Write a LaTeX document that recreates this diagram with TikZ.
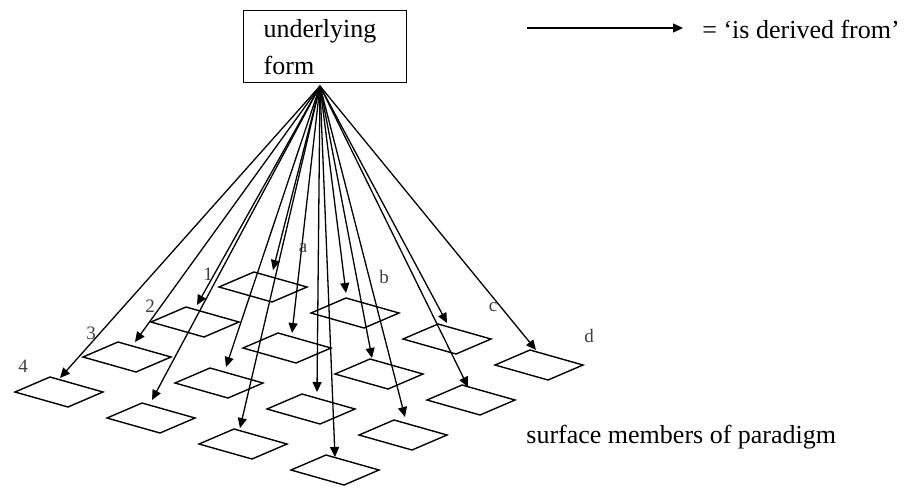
\documentclass[tikz,border=0pt]{standalone}
\usepackage{fontspec}
\setmainfont{Liberation Serif}
\usetikzlibrary{arrows.meta}
\begin{document}
\begin{tikzpicture}[x=0.5pt,y=-0.5pt,
  link/.style={line width=0.65pt, -{Triangle[length=5pt,width=4.5pt]}},
  cell/.style={line width=0.7pt, line join=miter},
  lbl/.style={font=\fontsize{9.5}{11}\selectfont, text=black!75, inner sep=0pt},
  txt/.style={font=\fontsize{13}{16}\selectfont, inner sep=0pt}]
\useasboundingbox (0,0) rectangle (909,488);
% underlying form box
\node[draw, line width=0.7pt, minimum height=36pt, text width=61.5pt,
      inner xsep=10pt, inner ysep=0pt, align=left,
      font=\fontsize{13}{18.5}\selectfont, anchor=north west] (uf) at (243,10) {underlying\\form};
\coordinate (src) at (320,86);
% legend
\coordinate (l0) at (527,28);
\coordinate (l1) at (683,28);
\draw[link] (l0) -- (l1);
\node[txt, anchor=base west] (leg) at (702,38) {= ‘is derived from’};
\node[txt, anchor=base west] (surf) at (526,443) {surface members of paradigm};
% grid of surface members
\foreach \r in {0,...,3} {
  \foreach \c in {0,...,3} {
    \pgfmathsetmacro\cx{263+92*\c-68*\r}
    \pgfmathsetmacro\cy{287+26*\c+35*\r}
    \coordinate (d\r\c) at (\cx,\cy);
    \draw[cell] (d\r\c) ++(-44,0) -- ++(35,-15) -- ++(53,15) -- ++(-35,15) -- cycle;
  }
}
% arrow tips
\foreach \n/\x/\y in {t00/273/270, t01/346/293, t02/447/323, t03/536/350,
                      t10/197/305, t11/292/333, t12/372/358, t13/468/387,
                      t20/135/342, t21/226/367, t22/317/392, t23/405/417,
                      t30/60/378,  t31/152/400, t32/240/428, t33/335/457}
  \coordinate (\n) at (\x,\y);
\foreach \n in {t00,t01,t02,t03,t10,t11,t12,t13,t20,t21,t22,t23,t30,t31,t32,t33}
  \draw[link] (src) -- (\n);
% row and column labels
\node[lbl] (r1) at (208,274) {1};
\node[lbl] (r2) at (150,306) {2};
\node[lbl] (r3) at (91,333) {3};
\node[lbl] (r4) at (23,366) {4};
\node[lbl] (ca) at (303,248) {a};
\node[lbl] (cb) at (384,277) {b};
\node[lbl] (cc) at (493,307) {c};
\node[lbl] (cd) at (589,336) {d};
\end{tikzpicture}
\end{document}
